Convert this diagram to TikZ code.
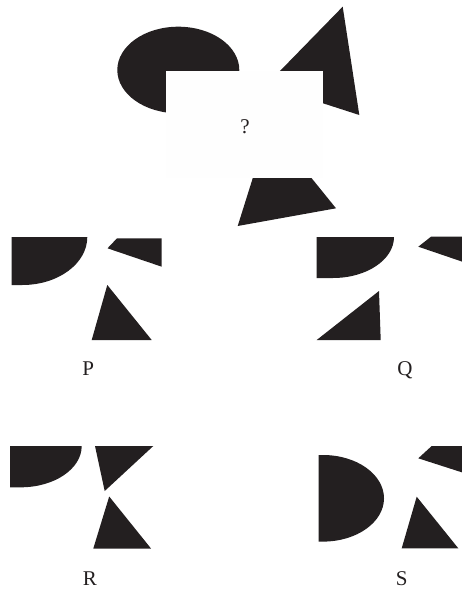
\documentclass[tikz,border=0pt]{standalone}
\usepackage{fontspec}
\setmainfont{Liberation Serif}
\definecolor{ink}{RGB}{35,31,32}
\definecolor{veil}{RGB}{254,254,254}
\tikzset{
  blot/.style={fill=ink,draw=none},
  cover/.style={fill=veil,draw=none},
  letter/.style={anchor=base,inner sep=0pt,font=\fontsize{21}{21}\selectfont,text=ink}
}
\begin{document}
\begin{tikzpicture}[x=1pt,y=-1pt]
\useasboundingbox (0,0) rectangle (462,589);
\clip (0,0) rectangle (462,589);
% ---- question figure ----
\fill[blot] (178.3,70) ellipse [x radius=61, y radius=43.3];
\fill[blot] (342.7,6.7) -- (359.3,115) -- (266.3,85) -- cycle;
\fill[blot] (269.2,125.8) -- (336,208.3) -- (237.7,226) -- cycle;
\fill[cover] (166,71) rectangle (323.3,178.3);
\node[letter] (qm) at (245,133.3) {?};
% ---- option P ----
\fill[blot] (11.7,237) -- (87.3,237) arc[start angle=0,end angle=90,x radius=65,y radius=48] -- (11.7,285) -- cycle;
\fill[blot] (107.5,248.3) -- (117,238.3) -- (161.7,238.3) -- (161.7,266.7) -- cycle;
\fill[blot] (107.3,285) -- (151.7,340) -- (91.7,340) -- cycle;
\node[letter] (lp) at (88.3,375) {P};
% ---- option Q ----
\fill[blot] (316.7,237) -- (394,237) arc[start angle=0,end angle=90,x radius=61,y radius=41] -- (316.7,278) -- cycle;
\fill[blot] (418.3,246.7) -- (431,236.7) -- (472,236.7) -- (472,265) -- cycle;
\fill[blot] (379,291) -- (380.7,340) -- (316.7,340) -- cycle;
\node[letter] (lq) at (405,375) {Q};
% ---- option R ----
\fill[blot] (10,446) -- (81.7,446) arc[start angle=0,end angle=90,x radius=61,y radius=41.3] -- (10,487.3) -- cycle;
\fill[blot] (95,446) -- (153.3,446) -- (104.7,491) -- cycle;
\fill[blot] (109.2,496.5) -- (151,548.5) -- (93.3,548.5) -- cycle;
\node[letter] (lr) at (90,585) {R};
% ---- option S ----
\fill[blot] (318.5,455) -- (323,455) arc[start angle=-90,end angle=90,x radius=61,y radius=43.3] -- (318.5,541.7) -- cycle;
\fill[blot] (418.3,458.3) -- (431.7,446) -- (472,446) -- (472,475.6) -- cycle;
\fill[blot] (416.7,496.7) -- (458.3,548.3) -- (401.7,548.3) -- cycle;
\node[letter] (ls) at (401.7,585) {S};
\end{tikzpicture}
\end{document}
